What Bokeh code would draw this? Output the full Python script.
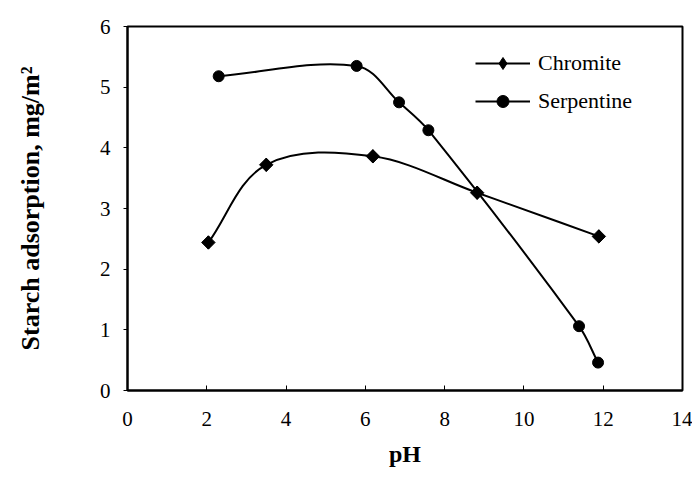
import numpy as np
from bokeh.plotting import figure
from bokeh.models import Range1d, FixedTicker, Legend, LegendItem, ColumnDataSource
from bokeh.embed import file_html
from bokeh.resources import INLINE

# ---- data ----
chromite_ph = [2.04, 3.50, 6.19, 8.82, 11.89]
chromite_ads = [2.44, 3.72, 3.86, 3.26, 2.54]
serpentine_ph = [2.30, 5.78, 6.85, 7.59, 11.39, 11.87]
serpentine_ads = [5.18, 5.35, 4.75, 4.29, 1.06, 0.46]
x_ticks = [0, 2, 4, 6, 8, 10, 12, 14]
y_ticks = [0, 1, 2, 3, 4, 5, 6]

FONT = "'Liberation Serif'"

W, H = 692, 474
BL, BR, BT, BB = 127, 10, 26, 84
X0, X1, Y0, Y1 = 0, 14, 0, 6
KX = (W - BL - BR) / (X1 - X0)   # px per x unit
KY = (H - BT - BB) / (Y1 - Y0)   # px per y unit


def smooth_segments(xs, ys, k=1.0 / 3.0):
    """Bezier control points for a smoothed line through the data points
    (tangent directions from neighbours, computed in screen proportions)."""
    P = np.column_stack([np.asarray(xs, float) * KX, np.asarray(ys, float) * KY])
    n = len(P)
    T = np.zeros_like(P)
    for i in range(n):
        if i == 0:
            d = P[1] - P[0]
        elif i == n - 1:
            d = P[-1] - P[-2]
        else:
            d = P[i + 1] - P[i - 1]
        T[i] = d / np.hypot(*d)
    out = dict(x0=[], y0=[], x1=[], y1=[], cx0=[], cy0=[], cx1=[], cy1=[])
    for i in range(n - 1):
        seg = np.hypot(*(P[i + 1] - P[i]))
        c0 = P[i] + T[i] * seg * k
        c1 = P[i + 1] - T[i + 1] * seg * k
        out["x0"].append(P[i][0] / KX); out["y0"].append(P[i][1] / KY)
        out["x1"].append(P[i + 1][0] / KX); out["y1"].append(P[i + 1][1] / KY)
        out["cx0"].append(c0[0] / KX); out["cy0"].append(c0[1] / KY)
        out["cx1"].append(c1[0] / KX); out["cy1"].append(c1[1] / KY)
    return ColumnDataSource(out)


p = figure(width=W, height=H,
           x_range=Range1d(X0, X1), y_range=Range1d(Y0, Y1),
           output_backend="svg", toolbar_location=None,
           min_border_left=BL, min_border_right=BR,
           min_border_top=BT, min_border_bottom=BB)

p.xgrid.visible = False
p.ygrid.visible = False
p.outline_line_color = "black"
p.outline_line_width = 2
p.outline_line_alpha = 1.0
p.background_fill_color = "white"
p.border_fill_color = "white"

# x axis
xa = p.xaxis[0]
xa.ticker = FixedTicker(ticks=x_ticks)
xa.major_tick_in = 5
xa.major_tick_out = 0
xa.minor_tick_in = 0
xa.minor_tick_out = 0
xa.axis_line_width = 2
xa.axis_line_color = "black"
xa.major_tick_line_color = "black"
xa.major_label_text_font = FONT
xa.major_label_text_font_size = "21px"
xa.major_label_text_color = "black"
xa.major_label_standoff = 21
xa.axis_label = "pH"
xa.axis_label_text_font = FONT
xa.axis_label_text_font_style = "bold"
xa.axis_label_text_font_size = "24px"
xa.axis_label_text_color = "black"
xa.axis_label_standoff = 12

# y axis
ya = p.yaxis[0]
ya.ticker = FixedTicker(ticks=y_ticks)
ya.major_tick_in = 0
ya.major_tick_out = 4
ya.minor_tick_in = 0
ya.minor_tick_out = 0
ya.axis_line_width = 2
ya.axis_line_color = "black"
ya.major_tick_line_color = "black"
ya.major_label_text_font = FONT
ya.major_label_text_font_size = "21px"
ya.major_label_text_color = "black"
ya.major_label_standoff = 13
ya.axis_label = "Starch adsorption, mg/m²"
ya.axis_label_text_font = FONT
ya.axis_label_text_font_style = "bold"
ya.axis_label_text_font_size = "26px"
ya.axis_label_text_color = "black"
ya.axis_label_standoff = 52

# series
src_c = smooth_segments(chromite_ph, chromite_ads)
src_s = smooth_segments(serpentine_ph, serpentine_ads)

bz_c = p.bezier(x0="x0", y0="y0", x1="x1", y1="y1", cx0="cx0", cy0="cy0",
                cx1="cx1", cy1="cy1", source=src_c, line_color="black", line_width=2)
bz_s = p.bezier(x0="x0", y0="y0", x1="x1", y1="y1", cx0="cx0", cy0="cy0",
                cx1="cx1", cy1="cy1", source=src_s, line_color="black", line_width=2)

# diamond symbol (used by the legend); fully covered by the rotated squares below
lg_c = p.scatter(chromite_ph, chromite_ads, marker="diamond", size=13,
                 fill_color="black", line_color="black")
sc_c = p.scatter(chromite_ph, chromite_ads, marker="square", size=9.5, angle=np.pi / 4,
                 fill_color="black", line_color="black")
sc_s = p.scatter(serpentine_ph, serpentine_ads, marker="circle", size=11,
                 fill_color="black", line_color="black")

legend = Legend(items=[LegendItem(label="Chromite", renderers=[bz_c, lg_c]),
                       LegendItem(label="Serpentine", renderers=[bz_s, sc_s])],
                location=(348, 274))
legend.border_line_color = None
legend.background_fill_alpha = 0
legend.padding = 0
legend.margin = 0
legend.spacing = 8
legend.glyph_width = 55
legend.glyph_height = 30
legend.label_height = 30
legend.label_standoff = 8
legend.label_text_font = FONT
legend.label_text_font_size = "22px"
legend.label_text_color = "black"
p.add_layout(legend)

open("out.html", "w").write(file_html(p, INLINE))
